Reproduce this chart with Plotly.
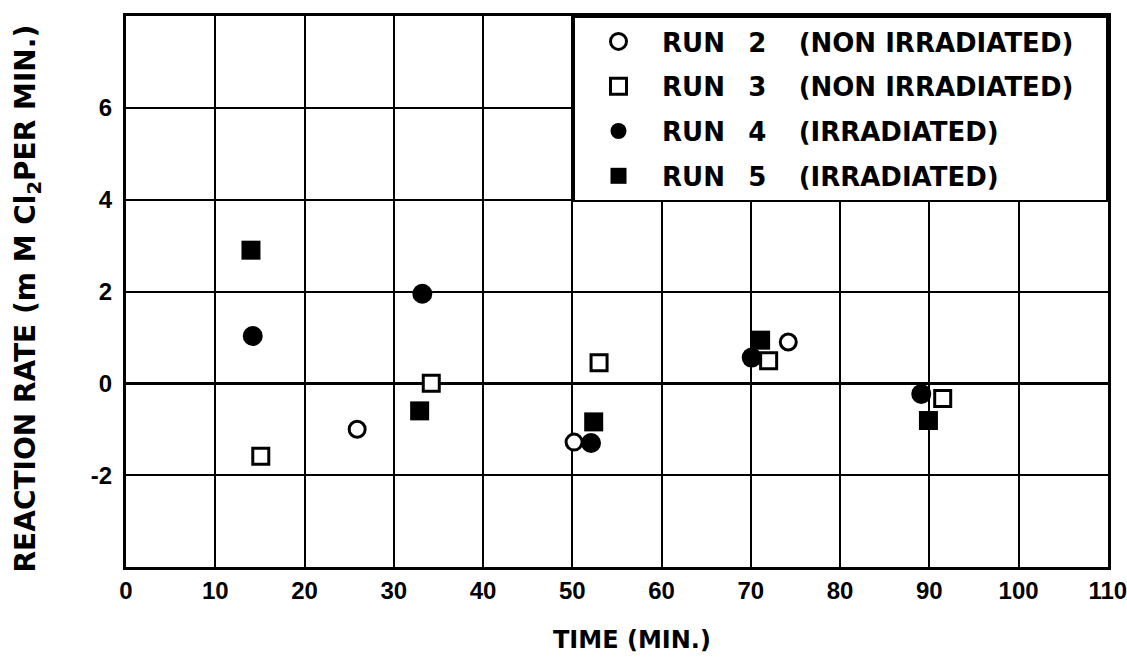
import plotly.graph_objects as go

# Reaction rate measurements (time in minutes, rate in mM Cl2 per minute)
run2_time = [25.9, 50.2, 74.2]
run2_rate = [-1.00, -1.28, 0.90]

run3_time = [15.1, 34.2, 53.0, 72.0, 91.5]
run3_rate = [-1.59, 0.00, 0.45, 0.49, -0.33]

run4_time = [14.2, 33.2, 52.1, 70.1, 89.1]
run4_rate = [1.03, 1.95, -1.30, 0.56, -0.23]

run5_time = [14.0, 32.9, 52.4, 71.1, 89.9]
run5_rate = [2.90, -0.60, -0.84, 0.94, -0.81]

x_ticks = [0, 10, 20, 30, 40, 50, 60, 70, 80, 90, 100, 110]
y_ticks = [-2, 0, 2, 4, 6]

FONT = "DejaVu Sans"
TICK_FONT = "Liberation Sans"
NB = "\u00a0"
THIN = "\u2009"


def run_label(num, cond):
    return f"RUN{NB * 2}{THIN}{num}{NB * 3}{THIN}({cond}){NB * 3}"


fig = go.Figure()

# filled (irradiated) runs drawn first so open markers sit on top
fig.add_trace(go.Scatter(
    x=run4_time, y=run4_rate, mode="markers", legendrank=3, legendgroup="r4",
    name=run_label(4, "IRRADIATED"),
    marker=dict(symbol="circle", size=20, color="black", line=dict(width=0)),
))
fig.add_trace(go.Scatter(
    x=run5_time, y=run5_rate, mode="markers", legendrank=4, legendgroup="r5",
    name=run_label(5, "IRRADIATED"),
    marker=dict(symbol="square", size=19, color="black", line=dict(width=0)),
))
fig.add_trace(go.Scatter(
    x=run2_time, y=run2_rate, mode="markers", legendrank=1, legendgroup="r2",
    name=run_label(2, "NON IRRADIATED"),
    marker=dict(symbol="circle", size=16, color="white", line=dict(width=3, color="black")),
))
fig.add_trace(go.Scatter(
    x=run3_time, y=run3_rate, mode="markers", legendrank=2, legendgroup="r3",
    name=run_label(3, "NON IRRADIATED"),
    marker=dict(symbol="square", size=16, color="white", line=dict(width=3, color="black")),
))

fig.update_layout(
    width=1127, height=659,
    margin=dict(l=126, r=19, t=16, b=92, autoexpand=False),
    paper_bgcolor="white", plot_bgcolor="white",
    font=dict(family=FONT, color="black", size=24, weight="bold"),
    showlegend=True,
    legend=dict(
        x=1.0, xanchor="right", y=1.0, yanchor="top",
        bgcolor="white", bordercolor="black", borderwidth=2,
        font=dict(family=FONT, size=26, color="black", weight="bold"),
        tracegroupgap=8, itemwidth=77,
    ),
    xaxis=dict(
        range=[0, 110.02], tickvals=x_ticks, ticktext=[str(v) for v in x_ticks],
        showgrid=True, gridcolor="black", gridwidth=2,
        showline=True, linecolor="black", linewidth=3, mirror=True,
        zeroline=False, ticks="", ticklabelstandoff=0, ticklabeloverflow="allow",
        automargin=False,
        tickfont=dict(family=TICK_FONT, size=24, weight="bold"),
    ),
    yaxis=dict(
        range=[-4, 8], tickvals=y_ticks, ticktext=[str(v) for v in y_ticks],
        showgrid=True, gridcolor="black", gridwidth=2,
        showline=True, linecolor="black", linewidth=3, mirror=True,
        zeroline=True, zerolinecolor="black", zerolinewidth=3,
        ticks="", ticklabelstandoff=6, automargin=False,
        tickfont=dict(family=TICK_FONT, size=24, weight="bold"),
    ),
    annotations=[
        dict(text="TIME (MIN.)", xref="paper", yref="paper", x=0.5, y=-0.133,
             xshift=15, xanchor="center", yanchor="middle", showarrow=False,
             font=dict(family=FONT, size=24, weight="bold")),
        dict(text=f"REACTION RATE (m{NB}M{NB}Cl<sub>2</sub>PER{NB}MIN.)",
             xref="paper", yref="paper", x=-0.1, y=0.487,
             xanchor="center", yanchor="middle", showarrow=False, textangle=-90,
             font=dict(family=FONT, size=28, weight="bold")),
    ],
)

fig.write_html("out.html")
